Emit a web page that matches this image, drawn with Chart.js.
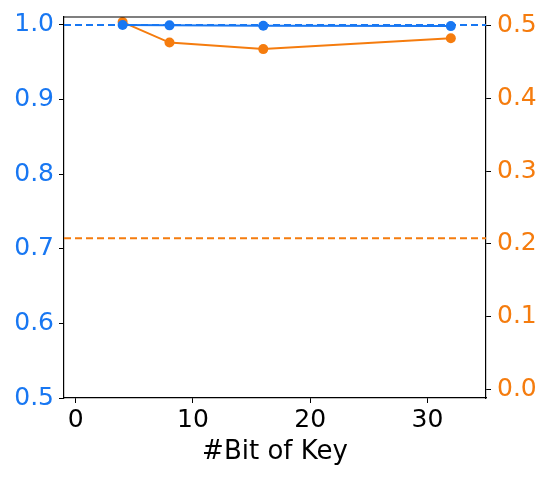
<!DOCTYPE html>
<html>
<head>
<meta charset="utf-8">
<script src="https://cdn.jsdelivr.net/npm/chart.js@4"></script>
<style>
  html, body { margin: 0; padding: 0; background: #fff; }
  #wrap { width: 550px; height: 480px; }
</style>
</head>
<body>
<div id="wrap"><canvas id="chart" width="550" height="480"></canvas></div>
<script>
// Data
const bits = [4, 8, 16, 32];
const accuracy = [1.0, 0.9995, 0.999, 0.9985];   // left axis
const ratio = [0.504, 0.476, 0.467, 0.482];      // right axis
const accuracyRef = 1.0;                         // blue dashed line
const ratioRef = 0.208;                          // orange dashed line
const xTicks = [0, 10, 20, 30];
const leftTicks = [0.5, 0.6, 0.7, 0.8, 0.9, 1.0];
const rightTicks = [0.0, 0.1, 0.2, 0.3, 0.4, 0.5];
const xRange = [-1, 35];

const blue = '#1877f2';
const orange = '#f57c0e';
const font = 'DejaVu Sans';

const toPoints = (xs, ys) => xs.map((x, i) => ({ x: x, y: ys[i] }));
const hLine = (v) => xRange.map((x) => ({ x: x, y: v }));

const setTicks = (list) => (scale) => {
  scale.ticks = list.map((v) => ({ value: v }));
};

const ctx = document.getElementById('chart').getContext('2d');
new Chart(ctx, {
  type: 'line',
  data: {
    datasets: [
      {
        data: hLine(accuracyRef),
        yAxisID: 'yL',
        borderColor: blue,
        borderWidth: 2,
        borderDash: [7, 4],
        pointRadius: 0,
      },
      {
        data: hLine(ratioRef),
        yAxisID: 'yR',
        borderColor: orange,
        borderWidth: 2,
        borderDash: [7, 4],
        pointRadius: 0,
      },
      {
        data: toPoints(bits, accuracy),
        yAxisID: 'yL',
        borderColor: blue,
        backgroundColor: blue,
        borderWidth: 2,
        pointRadius: 5,
        pointBorderWidth: 0,
      },
      {
        data: toPoints(bits, ratio),
        yAxisID: 'yR',
        borderColor: orange,
        backgroundColor: orange,
        borderWidth: 2,
        pointRadius: 5,
        pointBorderWidth: 0,
      },
    ],
  },
  options: {
    responsive: false,
    animation: false,
    layout: { padding: { top: 17, left: 0, right: 0, bottom: 0 } },
    plugins: { legend: { display: false }, tooltip: { enabled: false } },
    scales: {
      x: {
        type: 'linear',
        min: xRange[0],
        max: xRange[1],
        afterBuildTicks: setTicks(xTicks),
        afterFit: (s) => { s.height = 82; },
        border: { color: '#000', width: 1.2 },
        grid: { drawOnChartArea: false, tickLength: 5, tickColor: '#000' },
        ticks: { color: '#000', font: { family: font, size: 25 }, padding: 2 },
        title: {
          display: true,
          text: '#Bit of Key',
          color: '#000',
          font: { family: font, size: 26 },
          padding: { top: 0, bottom: 12 },
        },
      },
      yL: {
        type: 'linear',
        position: 'left',
        min: 0.5,
        max: 1.0107,
        afterBuildTicks: setTicks(leftTicks),
        afterFit: (s) => { s.width = 64; },
        border: { color: '#000', width: 1.2 },
        grid: { drawOnChartArea: false, tickLength: 5, tickColor: '#000' },
        ticks: {
          color: blue,
          font: { family: font, size: 25, lineHeight: 0.8 },
          padding: 5,
          callback: (v) => v.toFixed(1),
        },
      },
      yR: {
        type: 'linear',
        position: 'right',
        min: -0.011,
        max: 0.511,
        afterBuildTicks: setTicks(rightTicks),
        afterFit: (s) => { s.width = 64; },
        border: { color: '#000', width: 1.2 },
        grid: { drawOnChartArea: false, tickLength: 5, tickColor: '#000' },
        ticks: {
          color: orange,
          font: { family: font, size: 25, lineHeight: 0.8 },
          padding: 6,
          callback: (v) => v.toFixed(1),
        },
      },
    },
  },
  plugins: [{
    id: 'topBorder',
    afterDraw: (chart) => {
      const a = chart.chartArea;
      const c = chart.ctx;
      c.save();
      c.strokeStyle = '#000';
      c.lineWidth = 1.2;
      c.beginPath();
      c.moveTo(a.left, a.top);
      c.lineTo(a.right, a.top);
      c.stroke();
      c.restore();
    },
  }],
});
</script>
</body>
</html>
